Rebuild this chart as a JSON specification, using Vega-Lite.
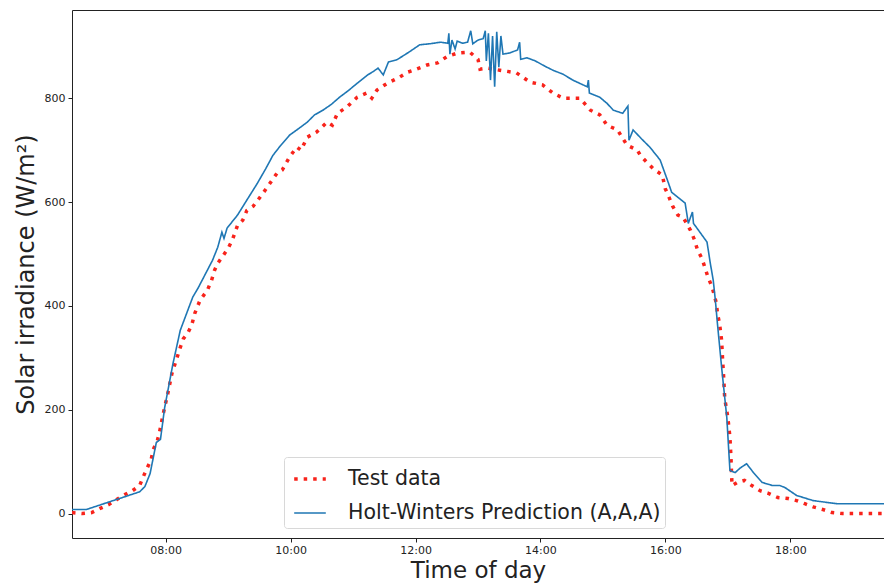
{
  "$schema": "https://vega.github.io/schema/vega-lite/v6.json",
  "autosize": "none",
  "width": 812,
  "height": 528,
  "padding": {"left": 72, "top": 10, "right": 0, "bottom": 47},
  "background": "white",
  "config": {
    "font": "DejaVu Sans",
    "view": {"stroke": "#222", "strokeWidth": 1},
    "axis": {"grid": false, "domain": false, "tickColor": "#222", "tickSize": 4, "labelColor": "#222", "titleColor": "#222", "labelFont": "DejaVu Sans", "titleFont": "DejaVu Sans", "labelFontSize": 11, "titleFontSize": 24, "titleFontWeight": "normal"}
  },
  "datasets": {
    "blue": [
      {"t": "06:30", "v": 8}, {"t": "06:44", "v": 8}, {"t": "07:35", "v": 42}, {"t": "07:40", "v": 52},
      {"t": "07:45", "v": 77}, {"t": "07:51", "v": 137}, {"t": "07:55", "v": 143}, {"t": "07:59", "v": 204},
      {"t": "08:07", "v": 289}, {"t": "08:14", "v": 353}, {"t": "08:26", "v": 417}, {"t": "08:31", "v": 434},
      {"t": "08:45", "v": 488}, {"t": "08:50", "v": 513}, {"t": "08:54", "v": 542}, {"t": "08:56", "v": 530},
      {"t": "08:59", "v": 550}, {"t": "09:09", "v": 575}, {"t": "09:18", "v": 604}, {"t": "09:28", "v": 636},
      {"t": "09:36", "v": 664}, {"t": "09:43", "v": 690}, {"t": "09:50", "v": 708}, {"t": "09:59", "v": 729},
      {"t": "10:08", "v": 742}, {"t": "10:16", "v": 754}, {"t": "10:23", "v": 768}, {"t": "10:31", "v": 777},
      {"t": "10:39", "v": 788}, {"t": "10:47", "v": 802}, {"t": "10:55", "v": 814}, {"t": "11:04", "v": 829},
      {"t": "11:14", "v": 845}, {"t": "11:19", "v": 851}, {"t": "11:24", "v": 858}, {"t": "11:29", "v": 845},
      {"t": "11:34", "v": 870}, {"t": "11:42", "v": 874}, {"t": "11:53", "v": 888}, {"t": "12:04", "v": 903},
      {"t": "12:14", "v": 905}, {"t": "12:24", "v": 908}, {"t": "12:31", "v": 906}, {"t": "12:32", "v": 925},
      {"t": "12:33", "v": 885}, {"t": "12:35", "v": 912}, {"t": "12:38", "v": 895}, {"t": "12:40", "v": 910},
      {"t": "12:45", "v": 906}, {"t": "12:50", "v": 908}, {"t": "12:53", "v": 930}, {"t": "12:55", "v": 905},
      {"t": "13:00", "v": 912}, {"t": "13:05", "v": 915}, {"t": "13:07", "v": 930}, {"t": "13:08", "v": 872},
      {"t": "13:10", "v": 925}, {"t": "13:12", "v": 835}, {"t": "13:14", "v": 920}, {"t": "13:16", "v": 822},
      {"t": "13:18", "v": 928}, {"t": "13:20", "v": 860}, {"t": "13:22", "v": 920}, {"t": "13:24", "v": 885},
      {"t": "13:30", "v": 887}, {"t": "13:38", "v": 893}, {"t": "13:40", "v": 908}, {"t": "13:41", "v": 875},
      {"t": "13:47", "v": 878}, {"t": "13:55", "v": 872}, {"t": "14:04", "v": 862}, {"t": "14:12", "v": 854},
      {"t": "14:22", "v": 846}, {"t": "14:31", "v": 835}, {"t": "14:45", "v": 822}, {"t": "14:46", "v": 835},
      {"t": "14:47", "v": 810}, {"t": "14:57", "v": 802}, {"t": "15:04", "v": 790}, {"t": "15:10", "v": 777},
      {"t": "15:19", "v": 771}, {"t": "15:24", "v": 785}, {"t": "15:25", "v": 719}, {"t": "15:29", "v": 739},
      {"t": "15:37", "v": 722}, {"t": "15:45", "v": 706}, {"t": "15:55", "v": 681}, {"t": "16:02", "v": 642},
      {"t": "16:06", "v": 619}, {"t": "16:19", "v": 598}, {"t": "16:22", "v": 559}, {"t": "16:26", "v": 581},
      {"t": "16:27", "v": 559}, {"t": "16:40", "v": 523}, {"t": "16:43", "v": 484}, {"t": "16:46", "v": 449},
      {"t": "16:48", "v": 411}, {"t": "16:50", "v": 366}, {"t": "16:54", "v": 282}, {"t": "16:59", "v": 185},
      {"t": "17:02", "v": 83}, {"t": "17:07", "v": 79}, {"t": "17:12", "v": 88}, {"t": "17:18", "v": 96},
      {"t": "17:25", "v": 78}, {"t": "17:33", "v": 60}, {"t": "17:43", "v": 54}, {"t": "17:50", "v": 54},
      {"t": "17:55", "v": 50}, {"t": "18:06", "v": 35}, {"t": "18:22", "v": 25}, {"t": "18:45", "v": 19},
      {"t": "19:30", "v": 19}
    ],
    "red": [
      {"t": "06:30", "v": 2}, {"t": "06:40", "v": 0}, {"t": "06:49", "v": 2}, {"t": "06:57", "v": 10},
      {"t": "07:05", "v": 17}, {"t": "07:13", "v": 27}, {"t": "07:19", "v": 35}, {"t": "07:28", "v": 44},
      {"t": "07:35", "v": 54}, {"t": "07:38", "v": 69}, {"t": "07:42", "v": 87}, {"t": "07:46", "v": 104},
      {"t": "07:48", "v": 123}, {"t": "07:52", "v": 141}, {"t": "07:54", "v": 156}, {"t": "07:56", "v": 176},
      {"t": "07:59", "v": 205}, {"t": "08:02", "v": 231}, {"t": "08:06", "v": 270}, {"t": "08:11", "v": 301},
      {"t": "08:14", "v": 320}, {"t": "08:17", "v": 337}, {"t": "08:21", "v": 347}, {"t": "08:25", "v": 363},
      {"t": "08:28", "v": 386}, {"t": "08:33", "v": 411}, {"t": "08:40", "v": 430}, {"t": "08:44", "v": 449},
      {"t": "08:47", "v": 469}, {"t": "08:50", "v": 482}, {"t": "09:00", "v": 511}, {"t": "09:04", "v": 527},
      {"t": "09:09", "v": 555}, {"t": "09:14", "v": 565}, {"t": "09:18", "v": 584}, {"t": "09:24", "v": 592},
      {"t": "09:29", "v": 605}, {"t": "09:37", "v": 627}, {"t": "09:47", "v": 656}, {"t": "09:52", "v": 662},
      {"t": "09:59", "v": 687}, {"t": "10:06", "v": 706}, {"t": "10:10", "v": 700}, {"t": "10:16", "v": 725},
      {"t": "10:25", "v": 735}, {"t": "10:35", "v": 754}, {"t": "10:40", "v": 748}, {"t": "10:45", "v": 771},
      {"t": "10:54", "v": 783}, {"t": "11:04", "v": 802}, {"t": "11:13", "v": 810}, {"t": "11:18", "v": 800},
      {"t": "11:23", "v": 816}, {"t": "11:33", "v": 829}, {"t": "11:45", "v": 841}, {"t": "11:52", "v": 850},
      {"t": "11:58", "v": 854}, {"t": "12:11", "v": 864}, {"t": "12:21", "v": 868}, {"t": "12:30", "v": 880},
      {"t": "12:40", "v": 887}, {"t": "12:52", "v": 889}, {"t": "13:00", "v": 875}, {"t": "13:02", "v": 856},
      {"t": "13:09", "v": 858}, {"t": "13:21", "v": 854}, {"t": "13:37", "v": 849}, {"t": "13:50", "v": 831},
      {"t": "14:02", "v": 826}, {"t": "14:12", "v": 810}, {"t": "14:22", "v": 800}, {"t": "14:38", "v": 800},
      {"t": "14:41", "v": 793}, {"t": "14:48", "v": 777}, {"t": "14:57", "v": 768}, {"t": "15:04", "v": 748},
      {"t": "15:14", "v": 739}, {"t": "15:23", "v": 710}, {"t": "15:33", "v": 700}, {"t": "15:36", "v": 690},
      {"t": "15:42", "v": 677}, {"t": "15:48", "v": 665}, {"t": "15:57", "v": 652}, {"t": "16:00", "v": 625},
      {"t": "16:02", "v": 617}, {"t": "16:07", "v": 592}, {"t": "16:12", "v": 575}, {"t": "16:17", "v": 571},
      {"t": "16:24", "v": 546}, {"t": "16:28", "v": 527}, {"t": "16:31", "v": 507}, {"t": "16:35", "v": 492},
      {"t": "16:38", "v": 474}, {"t": "16:41", "v": 455}, {"t": "16:45", "v": 436}, {"t": "16:47", "v": 420},
      {"t": "16:49", "v": 405}, {"t": "16:50", "v": 386}, {"t": "16:52", "v": 366}, {"t": "16:54", "v": 334},
      {"t": "16:55", "v": 295}, {"t": "16:56", "v": 262}, {"t": "16:57", "v": 222}, {"t": "17:00", "v": 185},
      {"t": "17:02", "v": 147}, {"t": "17:03", "v": 108}, {"t": "17:04", "v": 54}, {"t": "17:09", "v": 60},
      {"t": "17:16", "v": 64}, {"t": "17:23", "v": 54}, {"t": "17:31", "v": 44}, {"t": "17:39", "v": 39},
      {"t": "17:48", "v": 31}, {"t": "17:58", "v": 29}, {"t": "18:06", "v": 25}, {"t": "18:14", "v": 19},
      {"t": "18:22", "v": 13}, {"t": "18:31", "v": 8}, {"t": "18:40", "v": 2}, {"t": "18:50", "v": 0},
      {"t": "19:30", "v": 0}
    ]
  },
  "layer": [
    {
      "data": {"name": "red", "format": {"parse": {"t": "date:'%H:%M'"}}},
      "transform": [{"calculate": "'Test data'", "as": "series"}],
      "mark": {"type": "line", "strokeCap": "butt", "clip": true},
      "encoding": {
        "x": {"field": "t", "type": "temporal"},
        "y": {"field": "v", "type": "quantitative"},
        "color": {"field": "series", "type": "nominal"},
        "strokeDash": {"field": "series", "type": "nominal"},
        "strokeWidth": {"field": "series", "type": "nominal"}
      }
    },
    {
      "data": {"name": "blue", "format": {"parse": {"t": "date:'%H:%M'"}}},
      "transform": [{"calculate": "'Holt-Winters Prediction (A,A,A)'", "as": "series"}],
      "mark": {"type": "line", "clip": true},
      "encoding": {
        "x": {
          "field": "t", "type": "temporal",
          "scale": {"domain": [{"year": 1900, "month": 1, "date": 1, "hours": 6, "minutes": 30}, {"year": 1900, "month": 1, "date": 1, "hours": 19, "minutes": 30}]},
          "axis": {
            "title": "Time of day", "format": "%H:%M", "labelPadding": 2, "titlePadding": 4, "titleFontSize": 23,
            "values": [
              {"year": 1900, "month": 1, "date": 1, "hours": 8},
              {"year": 1900, "month": 1, "date": 1, "hours": 10},
              {"year": 1900, "month": 1, "date": 1, "hours": 12},
              {"year": 1900, "month": 1, "date": 1, "hours": 14},
              {"year": 1900, "month": 1, "date": 1, "hours": 16},
              {"year": 1900, "month": 1, "date": 1, "hours": 18}
            ]
          }
        },
        "y": {
          "field": "v", "type": "quantitative",
          "scale": {"domain": [-47, 970], "nice": false, "zero": false},
          "axis": {"title": "Solar irradiance (W/m²)", "values": [0, 200, 400, 600, 800], "labelPadding": 3, "titlePadding": 6}
        },
        "color": {
          "field": "series", "type": "nominal",
          "scale": {"domain": ["Test data", "Holt-Winters Prediction (A,A,A)"], "range": ["#f8231b", "#1f77b4"]},
          "legend": {
            "title": null, "orient": "none", "legendX": 212, "legendY": 447,
            "symbolType": "stroke", "symbolSize": 1000, "symbolOffset": 4, "labelFontSize": 20.5, "labelColor": "#222",
            "labelFont": "DejaVu Sans", "labelOffset": 20, "rowPadding": 6, "labelLimit": 400,
            "padding": 4, "strokeColor": "#d8d8d8", "fillColor": "white", "cornerRadius": 3
          }
        },
        "strokeDash": {
          "field": "series", "type": "nominal",
          "scale": {"domain": ["Test data", "Holt-Winters Prediction (A,A,A)"], "range": [[3.5, 6], [1, 0]]},
          "legend": null
        },
        "strokeWidth": {
          "field": "series", "type": "nominal",
          "scale": {"domain": ["Test data", "Holt-Winters Prediction (A,A,A)"], "range": [3.5, 1.6]},
          "legend": null
        }
      }
    }
  ]
}
